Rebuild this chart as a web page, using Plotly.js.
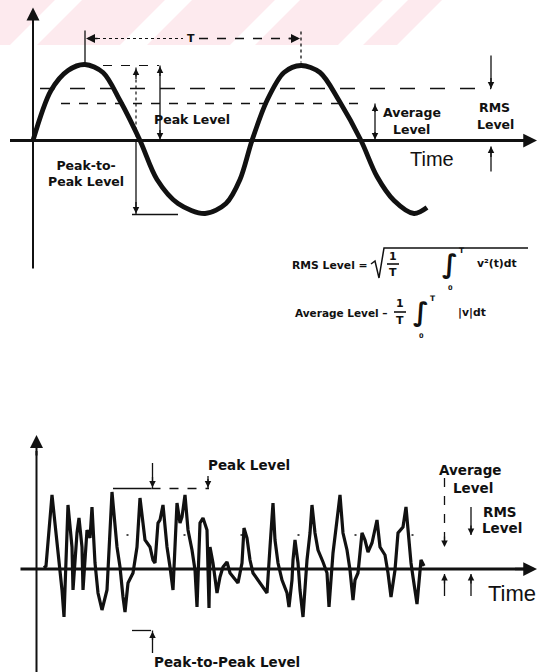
<!DOCTYPE html>
<html><head><meta charset="utf-8">
<script src="https://cdn.plot.ly/plotly-3.0.1.min.js"></script>
<style>html,body{margin:0;padding:0;background:#fff;overflow:hidden}#chart{width:537px;height:672px}</style>
</head><body><div id="chart"></div>
<script>
// ---------- DATA ----------
// Top panel: sinusoid. time = distance from vertical axis, amp = height above time axis
const sineTime = [0,18,35,52,70,87,107,124,145,172,193,207,219,234,251,268,287,306,328,344,361,381,394];
const sineAmp  = [0,50,70,76,68,40,0,-39,-63,-73,-63,-39,0,40,68,75,68,40,0,-36,-60,-73,-67];
const sineLevels = {peak:75, rms:52, average:37, trough:-74};
const sinePeriod = [52, 268];

// Bottom panel: random signal
const noiseTime = [7.5,9.5,15.5,20.5,23.5,25.5,27.5,31.5,35.5,36.5,40.5,42.5,45.5,46.5,50.5,53.5,55.5,58.5,61.5,65.5,70.5,73.5,75.5,80.5,83.5,86.5,88.5,91.5,96.5,100.5,103.5,108.5,113.5,116.5,118.5,121.5,123.5,126.5,130.5,133.5,136.5,140.5,143.5,145.5,148.5,151.5,155.5,158.5,160.5,163.5,166.5,170.5,172.5,173.5,176.5,180.5,183.5,186.5,190.5,193.5,196.5,201.5,205.5,207.5,210.5,213.5,216.5,221.5,226.5,230.5,233.5,236.5,238.5,241.5,245.5,250.5,252.5,255.5,256.5,258.5,261.5,263.5,266.5,270.5,273.5,275.5,278.5,281.5,286.5,290.5,292.5,296.5,300.5,303.5,306.5,310.5,313.5,316.5,318.5,321.5,325.5,328.5,331.5,335.5,340.5,343.5,348.5,351.5,354.5,358.5,361.5,366.5,369.5,371.5,374.5,376.5,380.5,384.5,387.5];
const noiseAmp  = [1,3,74,27,4,-21,-48,64,22,-21,36,51,22,-21,39,31,62,6,-24,-41,-21,42,77,22,2,-28,-43,-14,-4,22,71,29,22,9,6,46,49,64,22,2,-21,66,46,52,74,39,19,-1,-38,46,51,39,-39,22,6,-24,-8,2,7,-4,-8,-14,6,41,31,9,-4,-11,-18,-24,22,66,29,6,-11,-24,-38,-11,9,29,6,-21,-48,9,36,64,36,19,7,-4,-38,16,49,74,36,19,-1,-31,-11,-4,36,29,17,26,49,22,14,-4,-28,-1,36,42,62,39,6,-8,-35,9,3];
const noiseLevels = {peak:80.5, ppLow:-61.5, level:34};

// ---------- LAYOUT HELPERS ----------
const W = 537, H = 672;
const INK = '#111';
const px = x => x / W, py = y => 1 - y / H;
function seg(xr, yr, x0, y0, x1, y1, w, dash) {
  return {type:'line', xref:xr, yref:yr, x0, y0, x1, y1, layer:'above',
          line:{color:INK, width:w || 1.3, dash:dash || 'solid'}};
}
function arrow(xr, yr, x, y, ax, ay, w, size) {
  return {xref:xr, yref:yr, axref:xr, ayref:yr, x, y, ax, ay, text:'', showarrow:true,
          arrowhead:2, arrowsize:size || 1, arrowwidth:w || 1.3, arrowcolor:INK};
}
function label(x, y, text, size, fam, anchor) {
  return {xref:'paper', yref:'paper', x:px(x), y:py(y), text, showarrow:false,
          xanchor:anchor || 'center', yanchor:'middle',
          font:{family:fam || 'DejaVu Sans', size:size || 12, color:INK}};
}

const shapes = [];
const ann = [];

// watermark band at the top
shapes.push({type:'path', xref:'paper', yref:'paper', layer:'below', line:{width:0}, fillcolor:'#fdeaee',
  path:`M0,${py(0)} L${px(442)},${py(0)} L${px(397)},${py(45)} L0,${py(45)} Z`});
[[55,82],[165,192],[275,300],[383,408]].forEach(([a,b]) => {
  shapes.push({type:'path', xref:'paper', yref:'paper', layer:'below', line:{width:0}, fillcolor:'#ffffff',
    path:`M${px(a)},${py(0)} L${px(b)},${py(0)} L${px(b-45)},${py(45)} L${px(a-45)},${py(45)} Z`});
});

// ----- top panel (x, y) -----
const L = sineLevels;
shapes.push(seg('x','y', 0, -128, 0, 120, 2));               // vertical axis
ann.push(arrow('x','y', 0, 133, 0, 112, 2, 1.3));
shapes.push(seg('x','y', -23, 0, 492, 0, 3));                // time axis
ann.push(arrow('x','y', 504, 0, 480, 0, 2.5, 1.1));
// period T
shapes.push(seg('x','y', sinePeriod[0], 110, sinePeriod[0], 78, 1.3));
shapes.push(seg('x','y', sinePeriod[1], 109, sinePeriod[1], 78, 1.3, 'dot'));
shapes.push(seg('x','y', sinePeriod[0]+6, 102, 150, 102, 1.2, 'dot'));
shapes.push(seg('x','y', 166, 102, sinePeriod[1]-6, 102, 1.3, 'dash'));
ann.push(arrow('x','y', sinePeriod[0]+1, 102, sinePeriod[0]+14, 102, 1.5, 1.2));
ann.push(arrow('x','y', sinePeriod[1]-1, 102, sinePeriod[1]-14, 102, 1.5, 1.2));
ann.push(label(191, 38.5, '<b>T</b>', 11));
// level lines
shapes.push(seg('x','y', 52, L.peak, 126, L.peak, 1.2, 'dash'));
shapes.push(seg('x','y', 7, L.rms, 458, L.rms, 1.3, 'longdash'));
shapes.push(seg('x','y', 28, L.average, 327, L.average, 1.3, 'dash'));
// peak-to-peak
shapes.push(seg('x','y', 103, L.peak-2, 103, 0, 1.2, 'dot'));
shapes.push(seg('x','y', 103, 0, 103, L.trough, 1.3));
shapes.push(seg('x','y', 99, L.trough, 145, L.trough, 1.3));
ann.push(arrow('x','y', 103, L.peak-3, 103, L.peak-15, 1.3));
ann.push(arrow('x','y', 103, L.trough+1, 103, L.trough+14, 1.3));
// peak level
shapes.push(seg('x','y', 127, L.peak, 127, 0, 1.3));
ann.push(arrow('x','y', 127, L.peak-1, 127, L.peak-12, 1.3));
ann.push(arrow('x','y', 127, 1, 127, 12, 1.3));
// average level
shapes.push(seg('x','y', 342, L.average, 342, 0, 1.3));
ann.push(arrow('x','y', 342, L.average-1, 342, L.average-10, 1.3));
ann.push(arrow('x','y', 342, 1, 342, 10, 1.3));
// rms level
shapes.push(seg('x','y', 458, 85, 458, L.rms, 1.3));
ann.push(arrow('x','y', 458, L.rms, 458, L.rms+12, 1.3));
shapes.push(seg('x','y', 458, -6, 458, -31, 1.3));
ann.push(arrow('x','y', 458, -6, 458, -18, 1.3));
// top labels
ann.push(label(192, 119.5, '<b>Peak Level</b>', 12.5));
ann.push(label(412, 112.5, '<b>Average</b>', 12.5));
ann.push(label(411, 129.5, '<b>Level</b>', 12.5));
ann.push(label(494, 108, '<b>RMS</b>', 12.5));
ann.push(label(495, 124.5, '<b>Level</b>', 12.5));
ann.push(label(86, 174, '<b>Peak-to-<br>Peak Level</b>', 12.5));
ann.push(label(432, 159, 'Time', 20, 'Liberation Sans'));

// formulas
ann.push(label(330, 265, '<b>RMS Level =</b>', 10.8));
shapes.push({type:'path', xref:'paper', yref:'paper', line:{color:INK, width:1.5},
  path:`M${px(371)},${py(264)} L${px(375)},${py(261)} L${px(379)},${py(278)} L${px(384)},${py(248)} L${px(528)},${py(248)}`});
ann.push(label(393, 256, '<b>1</b>', 11));
shapes.push({type:'line', xref:'paper', yref:'paper', x0:px(387), x1:px(399), y0:py(264), y1:py(264), line:{color:INK, width:1.6}});
ann.push(label(393, 272, '<b>T</b>', 11));
ann.push(label(450, 264, '<b>∫</b>', 26));
ann.push(label(462, 250, '<b>T</b>', 7.5));
ann.push(label(451, 288, '<b>0</b>', 6.5));
ann.push(label(497, 263, '<b>v²(t)dt</b>', 10.8));

ann.push(label(341, 313, '<b>Average Level –</b>', 10.5));
ann.push(label(400, 304, '<b>1</b>', 11));
shapes.push({type:'line', xref:'paper', yref:'paper', x0:px(394), x1:px(406), y0:py(312), y1:py(312), line:{color:INK, width:1.6}});
ann.push(label(400, 320, '<b>T</b>', 11));
ann.push(label(421, 312, '<b>∫</b>', 26));
ann.push(label(433, 298, '<b>T</b>', 7.5));
ann.push(label(421, 336, '<b>0</b>', 6.5));
ann.push(label(472, 312, '<b>|v|dt</b>', 10.8));

// ----- bottom panel (x2, y2) -----
const N = noiseLevels;
shapes.push(seg('x2','y2', 0, -105, 0, 118, 2));
ann.push(arrow('x2','y2', 0, 134, 0, 112, 2, 1.3));
shapes.push(seg('x2','y2', -16, 0, 488, 0, 3));
ann.push(arrow('x2','y2', 500.5, 0, 477, 0, 2.5, 1.1));
// peak level
shapes.push(seg('x2','y2', 76.5, N.peak, 115, N.peak, 1.3));
shapes.push(seg('x2','y2', 115, N.peak, 172.5, N.peak, 1.3, 'dash'));
shapes.push(seg('x2','y2', 116, 106, 116, N.peak, 1.3));
ann.push(arrow('x2','y2', 116, N.peak+1, 116, N.peak+13, 1.3));
shapes.push(seg('x2','y2', 171.5, 93, 171.5, N.peak, 1.3));
ann.push(arrow('x2','y2', 171.5, N.peak+1, 171.5, N.peak+11, 1.3));
ann.push(label(249, 464.5, '<b>Peak Level</b>', 13.5));
// peak-to-peak
shapes.push(seg('x2','y2', 95.5, N.ppLow, 114.5, N.ppLow, 1.3));
shapes.push(seg('x2','y2', 116, N.ppLow, 116, -84, 1.3));
ann.push(arrow('x2','y2', 116, N.ppLow-1, 116, N.ppLow-11, 1.3));
ann.push(label(227, 661.5, '<b>Peak-to-Peak Level</b>', 13.5));
// level line
shapes.push(seg('x2','y2', 90, N.level, 430, N.level, 1.6, '2px,55px'));
// average
shapes.push(seg('x2','y2', 408, 91, 408, 22, 1.3, 'dash'));
ann.push(arrow('x2','y2', 408, 22, 408, 34, 1.3));
shapes.push(seg('x2','y2', 408, -5, 408, -27, 1.3));
ann.push(arrow('x2','y2', 408, -5, 408, -16, 1.3));
ann.push(label(470, 469.5, '<b>Average</b>', 13.5));
ann.push(label(473, 488, '<b>Level</b>', 13.5));
// rms
shapes.push(seg('x2','y2', 434.5, 62, 434.5, N.level, 1.3));
ann.push(arrow('x2','y2', 434.5, N.level, 434.5, N.level+11, 1.3));
shapes.push(seg('x2','y2', 434.5, -5, 434.5, -27, 1.3));
ann.push(arrow('x2','y2', 434.5, -5, 434.5, -16, 1.3));
ann.push(label(500, 512, '<b>RMS</b>', 13.5));
ann.push(label(502, 528, '<b>Level</b>', 13.5));
ann.push(label(486, 593, 'Time', 22, 'Liberation Sans', 'left'));

const traces = [
  {x:sineTime, y:sineAmp, xaxis:'x', yaxis:'y', type:'scatter', mode:'lines',
   line:{color:INK, width:4.8, shape:'spline', smoothing:0.9}, hoverinfo:'skip', showlegend:false},
  {x:noiseTime, y:noiseAmp, xaxis:'x2', yaxis:'y2', type:'scatter', mode:'lines',
   line:{color:INK, width:3.2}, hoverinfo:'skip', showlegend:false}
];

const hidden = {visible:false, fixedrange:true};
const layout = {
  width:W, height:H, margin:{l:0,r:0,t:0,b:0}, paper_bgcolor:'#fff', plot_bgcolor:'rgba(0,0,0,0)',
  showlegend:false,
  xaxis: Object.assign({domain:[0,1], range:[-33, 504], anchor:'y'}, hidden),
  yaxis: Object.assign({domain:[0.5,1], range:[140.5-336, 140.5], anchor:'x'}, hidden),
  xaxis2: Object.assign({domain:[0,1], range:[-36.5, 500.5], anchor:'y2'}, hidden),
  yaxis2: Object.assign({domain:[0,0.5], range:[569-672, 569-336], anchor:'x2'}, hidden),
  shapes, annotations: ann
};
Plotly.newPlot('chart', traces, layout, {staticPlot:true, displayModeBar:false});
</script></body></html>
